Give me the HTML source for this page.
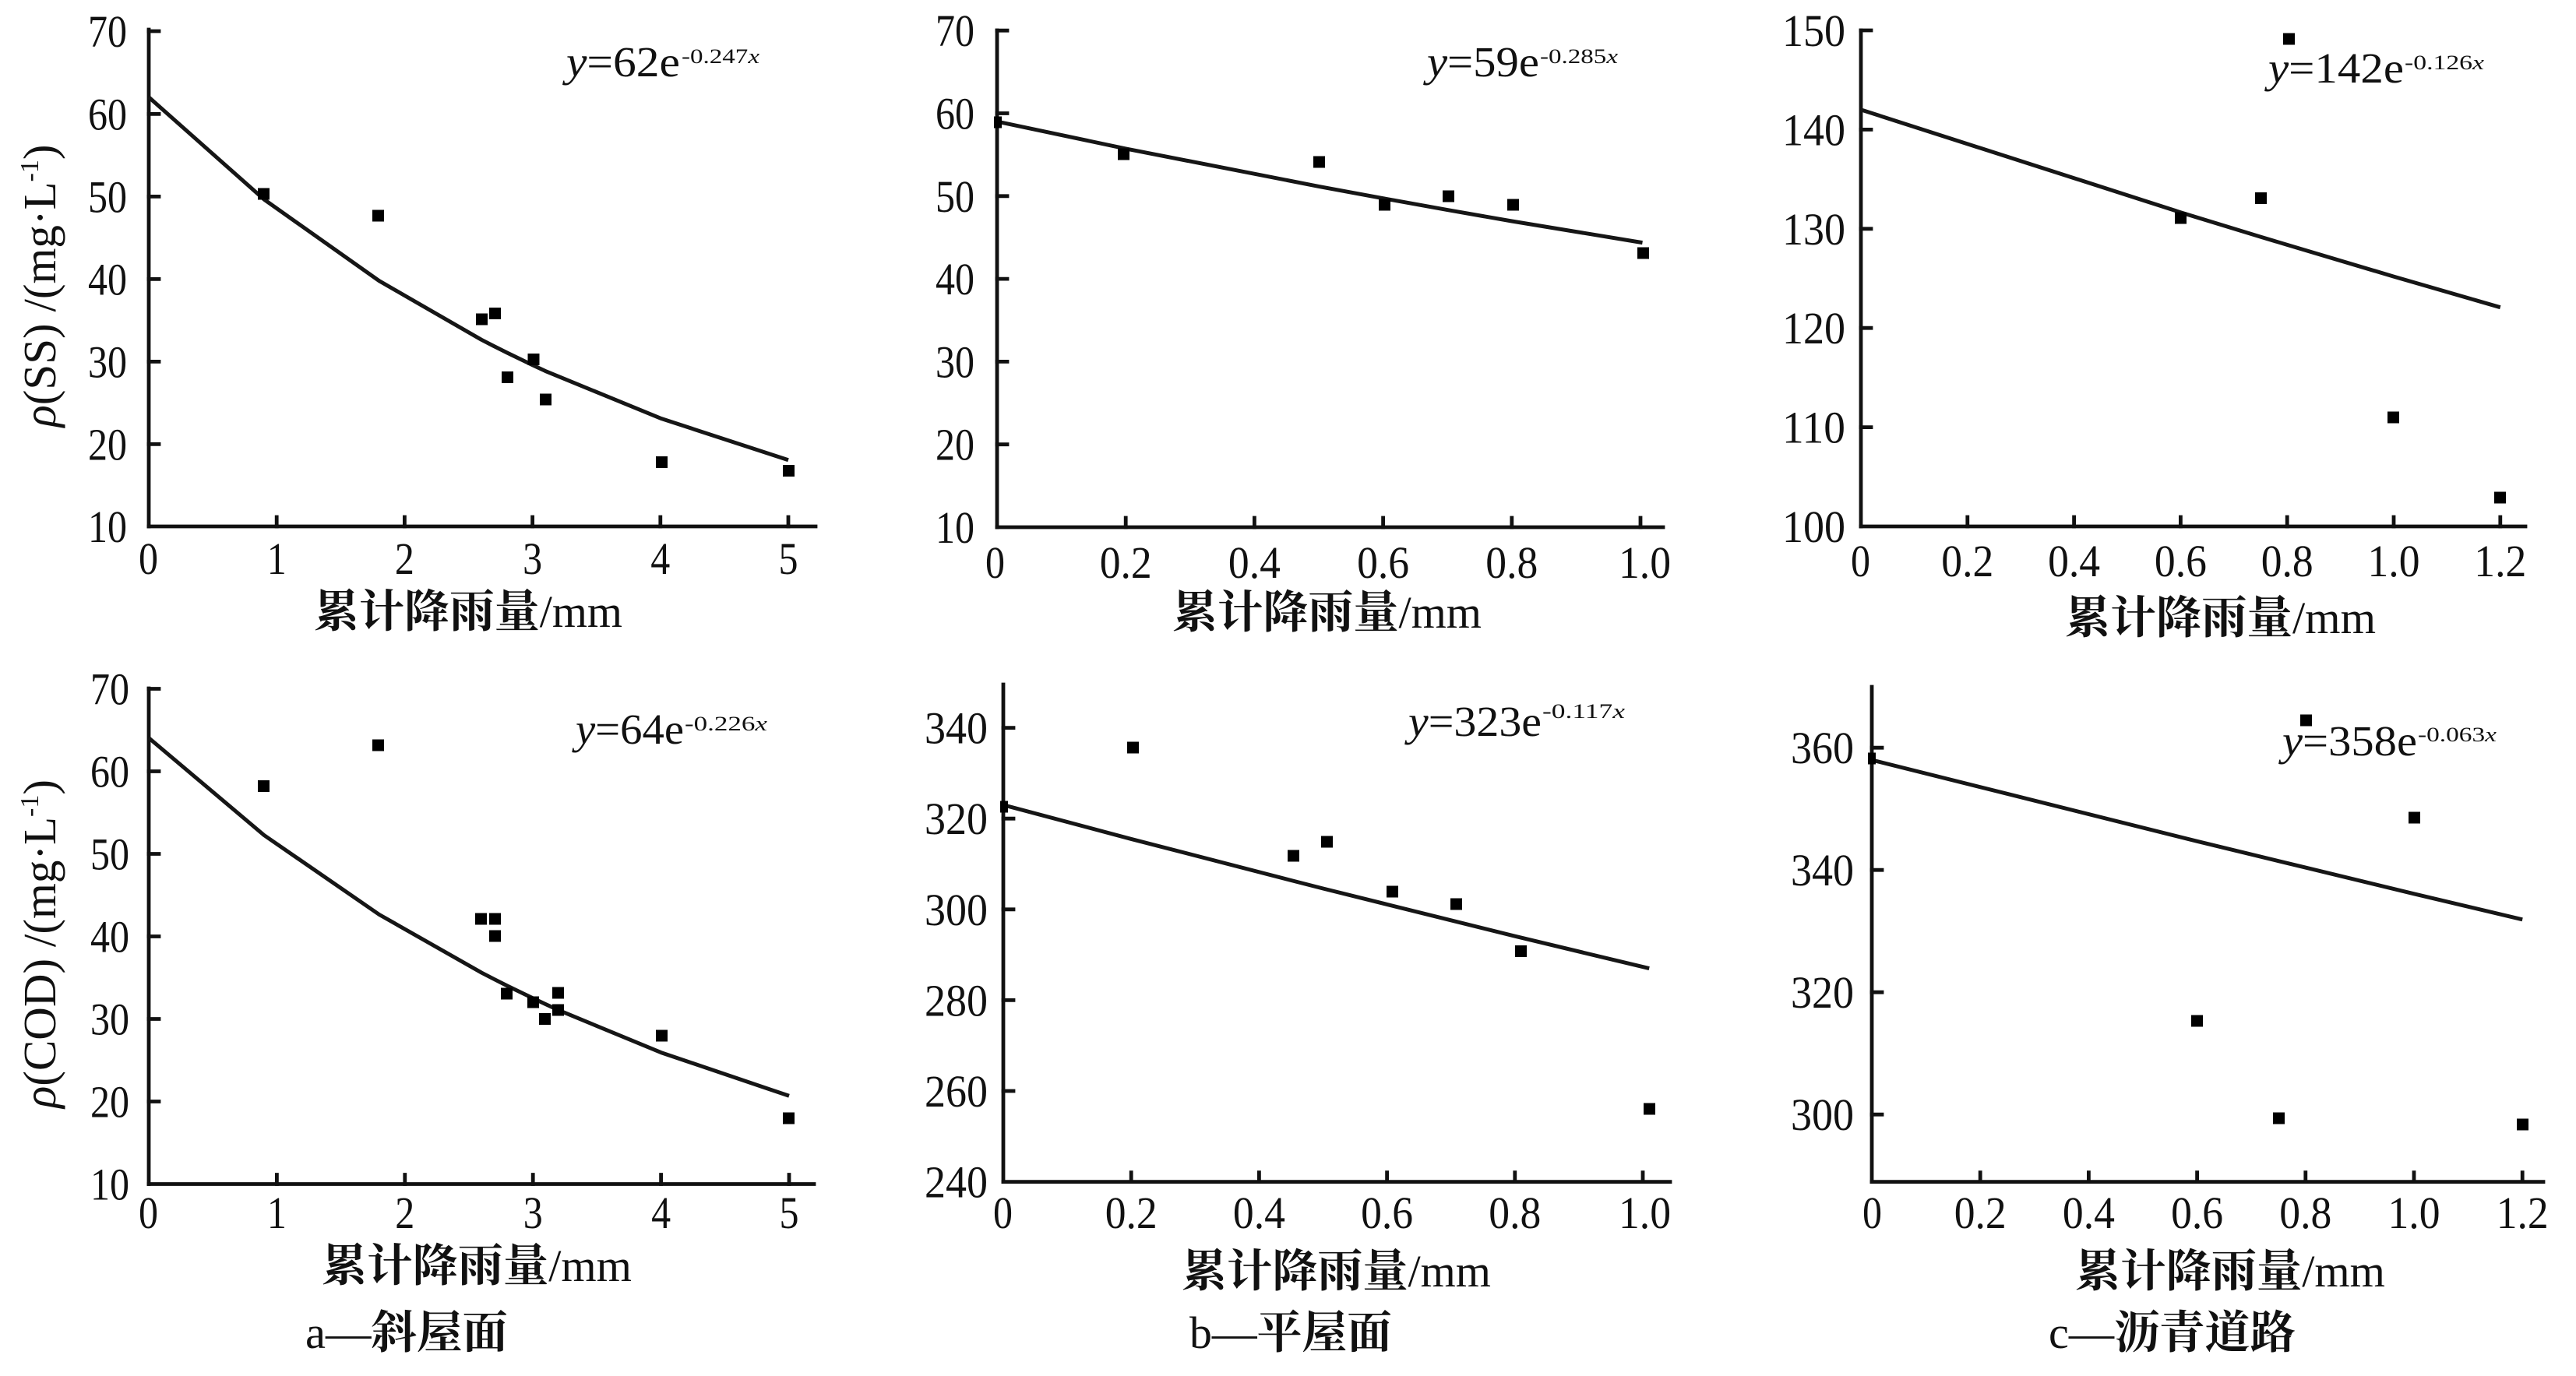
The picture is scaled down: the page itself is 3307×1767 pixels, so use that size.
<!DOCTYPE html>
<html>
<head>
<meta charset="utf-8">
<style>
  html, body { margin:0; padding:0; background:#fff; }
  svg { display:block; }
  .num { font-family: "Liberation Serif", serif; fill:#111; }
  .cjk { font-family: "Liberation Serif", "Noto Serif CJK SC", "Noto Sans CJK SC", serif; font-weight:bold; fill:#111; }
  .lat { font-family: "Liberation Serif", serif; font-weight:normal; fill:#111; }
</style>
</head>
<body>
<svg width="3307" height="1767" viewBox="0 0 3307 1767" xmlns="http://www.w3.org/2000/svg">
<rect x="0" y="0" width="3307" height="1767" fill="#fff"/>

<g stroke="#111" stroke-width="4.8" fill="none" stroke-linecap="square">
  <!-- Panel a top -->
  <line x1="191" y1="38" x2="191" y2="676"/>
  <line x1="191" y1="676" x2="1047" y2="676"/>
  <path d="M191 570.4h13M191 464.4h13M191 358.4h13M191 252.4h13M191 146.4h13M191 40h13"/>
  <path d="M355.2 676v-12M519.4 676v-12M683.6 676v-12M847.8 676v-12M1012 676v-12"/>

  <!-- Panel a bottom -->
  <line x1="191" y1="884" x2="191" y2="1520.5"/>
  <line x1="191" y1="1520.5" x2="1045" y2="1520.5"/>
  <path d="M191 1414.5h13M191 1308.5h13M191 1202.5h13M191 1096.5h13M191 990.5h13M191 884.5h13"/>
  <path d="M355.4 1520.5v-12M519.8 1520.5v-12M684.2 1520.5v-12M848.6 1520.5v-12M1013 1520.5v-12"/>

  <!-- Panel b top -->
  <line x1="1280" y1="39" x2="1280" y2="677"/>
  <line x1="1280" y1="677" x2="2135" y2="677"/>
  <path d="M1280 570.7h13M1280 464.4h13M1280 358.1h13M1280 251.8h13M1280 145.5h13M1280 39.2h13"/>
  <path d="M1445.2 677v-12M1610.4 677v-12M1775.6 677v-12M1940.8 677v-12M2106 677v-12"/>

  <!-- Panel c top -->
  <line x1="2389" y1="39" x2="2389" y2="676"/>
  <line x1="2389" y1="676" x2="3242" y2="676"/>
  <path d="M2389 548.6h13M2389 421.2h13M2389 293.8h13M2389 166.4h13M2389 39h13"/>
  <path d="M2525.8 676v-12M2662.6 676v-12M2799.4 676v-12M2936.2 676v-12M3073 676v-12M3209.8 676v-12"/>

  <!-- Panel b bottom -->
  <line x1="1288" y1="879" x2="1288" y2="1517.6"/>
  <line x1="1288" y1="1517.6" x2="2144" y2="1517.6"/>
  <path d="M1288 1401h13M1288 1284.4h13M1288 1167.8h13M1288 1051.2h13M1288 934.6h13"/>
  <path d="M1452.2 1517.6v-12M1616.4 1517.6v-12M1780.6 1517.6v-12M1944.8 1517.6v-12M2109 1517.6v-12"/>

  <!-- Panel c bottom -->
  <line x1="2403" y1="882" x2="2403" y2="1517.6"/>
  <line x1="2403" y1="1517.6" x2="3265" y2="1517.6"/>
  <path d="M2403 1431.2h13M2403 1274.2h13M2403 1117.2h13M2403 960.2h13"/>
  <path d="M2542.2 1517.6v-12M2681.4 1517.6v-12M2820.6 1517.6v-12M2959.8 1517.6v-12M3099 1517.6v-12M3238.2 1517.6v-12"/>
</g>

<!-- fitted curves -->
<g stroke="#161616" stroke-width="5" fill="none" stroke-linejoin="round">
  <polyline points="191,124.8 338.8,255.9 486.6,360.6 617.9,436.2 634.3,444.6 650.8,452.9 683.6,468.8 700,476.4 847.8,537.1 1012,590.8"/>
  <polyline points="191,947.6 339,1072.5 486.9,1174.5 618.4,1249.2 634.9,1257.7 651.3,1266 684.2,1281.9 700.6,1289.6 717.1,1297.2 848.6,1351.6 1013,1407.3"/>
  <polyline points="1280,156.1 1445.2,190.9 1693,239.4 1775.6,254.7 1858.2,269.6 1940.8,284 2108.5,311.6"/>
  <polyline points="2389,140.9 2799.4,272.7 2902,304.1 2936.2,314.4 3073,355.1 3209.8,394.7"/>
  <polyline points="1288,1033.7 1452.2,1077.4 1657.5,1130.5 1698.5,1141 1780.6,1161.4 1862.7,1181.8 1944.8,1202.2 2117.2,1243.6"/>
  <polyline points="2403,975.9 2820.6,1080.3 2925,1105.7 2959.8,1114.1 3099,1147.8 3238.2,1180.8"/>
</g>

<!-- data points -->
<g fill="#000">
  <!-- a top -->
  <rect x="331" y="241.5" width="15" height="15"/>
  <rect x="478" y="269.5" width="15" height="15"/>
  <rect x="611" y="402.5" width="15" height="15"/>
  <rect x="628" y="395" width="15" height="15"/>
  <rect x="677.5" y="454" width="15" height="15"/>
  <rect x="644" y="477" width="15" height="15"/>
  <rect x="693" y="505.5" width="15" height="15"/>
  <rect x="842" y="586" width="15" height="15"/>
  <rect x="1005" y="597" width="15" height="15"/>
  <!-- a bottom -->
  <rect x="331" y="1002" width="15" height="15"/>
  <rect x="478" y="949.5" width="15" height="15"/>
  <rect x="610" y="1172.5" width="15" height="15"/>
  <rect x="628" y="1172.5" width="15" height="15"/>
  <rect x="628" y="1194.5" width="15" height="15"/>
  <rect x="643" y="1268.5" width="15" height="15"/>
  <rect x="677" y="1279.5" width="15" height="15"/>
  <rect x="692" y="1301" width="15" height="15"/>
  <rect x="709" y="1267.5" width="15" height="15"/>
  <rect x="709" y="1289.5" width="15" height="15"/>
  <rect x="842" y="1322.5" width="15" height="15"/>
  <rect x="1005" y="1428.5" width="15" height="15"/>
  <!-- b top -->
  <rect x="1435" y="190.5" width="15" height="15"/>
  <rect x="1686" y="200.5" width="15" height="15"/>
  <rect x="1770" y="255.5" width="15" height="15"/>
  <rect x="1852" y="244.5" width="15" height="15"/>
  <rect x="1935" y="255.5" width="15" height="15"/>
  <rect x="2102" y="317.5" width="15" height="15"/>
  <rect x="1276" y="149.5" width="10" height="15"/>
  <!-- c top -->
  <rect x="2931" y="42.5" width="15" height="15"/>
  <rect x="2792" y="272.5" width="15" height="15"/>
  <rect x="2895" y="247" width="15" height="15"/>
  <rect x="3065" y="528.5" width="15" height="15"/>
  <rect x="3202" y="631.5" width="15" height="15"/>
  <!-- b bottom -->
  <rect x="1447" y="952.5" width="15" height="15"/>
  <rect x="1653" y="1091.5" width="15" height="15"/>
  <rect x="1696" y="1073.5" width="15" height="15"/>
  <rect x="1780" y="1137.5" width="15" height="15"/>
  <rect x="1862" y="1153.5" width="15" height="15"/>
  <rect x="1945" y="1214" width="15" height="15"/>
  <rect x="2110" y="1416.5" width="15" height="15"/>
  <rect x="1284" y="1028.5" width="10" height="15"/>
  <!-- c bottom -->
  <rect x="2953" y="917.5" width="15" height="15"/>
  <rect x="3092" y="1042.5" width="15" height="15"/>
  <rect x="2813" y="1303.5" width="15" height="15"/>
  <rect x="2918" y="1428.5" width="15" height="15"/>
  <rect x="3231" y="1436.5" width="15" height="15"/>
  <rect x="2398" y="966.5" width="10" height="15"/>
</g>

<!-- Y tick labels -->
<g class="num" font-family="Liberation Serif, serif" font-size="58">
  <!-- a top (right edge 163) -->
  <text x="113" y="60" textLength="50" lengthAdjust="spacingAndGlyphs">70</text>
  <text x="113" y="166.4" textLength="50" lengthAdjust="spacingAndGlyphs">60</text>
  <text x="113" y="272.4" textLength="50" lengthAdjust="spacingAndGlyphs">50</text>
  <text x="113" y="378.4" textLength="50" lengthAdjust="spacingAndGlyphs">40</text>
  <text x="113" y="484.4" textLength="50" lengthAdjust="spacingAndGlyphs">30</text>
  <text x="113" y="590.4" textLength="50" lengthAdjust="spacingAndGlyphs">20</text>
  <text x="113" y="696" textLength="50" lengthAdjust="spacingAndGlyphs">10</text>
  <!-- a bottom (right edge 166) -->
  <text x="116" y="904.5" textLength="50" lengthAdjust="spacingAndGlyphs">70</text>
  <text x="116" y="1010.5" textLength="50" lengthAdjust="spacingAndGlyphs">60</text>
  <text x="116" y="1116.5" textLength="50" lengthAdjust="spacingAndGlyphs">50</text>
  <text x="116" y="1222.5" textLength="50" lengthAdjust="spacingAndGlyphs">40</text>
  <text x="116" y="1328.5" textLength="50" lengthAdjust="spacingAndGlyphs">30</text>
  <text x="116" y="1434.5" textLength="50" lengthAdjust="spacingAndGlyphs">20</text>
  <text x="116" y="1540.5" textLength="50" lengthAdjust="spacingAndGlyphs">10</text>
  <!-- b top (right edge 1251) -->
  <text x="1201" y="59.2" textLength="50" lengthAdjust="spacingAndGlyphs">70</text>
  <text x="1201" y="165.5" textLength="50" lengthAdjust="spacingAndGlyphs">60</text>
  <text x="1201" y="271.8" textLength="50" lengthAdjust="spacingAndGlyphs">50</text>
  <text x="1201" y="378.1" textLength="50" lengthAdjust="spacingAndGlyphs">40</text>
  <text x="1201" y="484.4" textLength="50" lengthAdjust="spacingAndGlyphs">30</text>
  <text x="1201" y="590.7" textLength="50" lengthAdjust="spacingAndGlyphs">20</text>
  <text x="1201" y="697" textLength="50" lengthAdjust="spacingAndGlyphs">10</text>
  <!-- c top (right edge 2369) -->
  <text x="2288" y="59" textLength="81" lengthAdjust="spacingAndGlyphs">150</text>
  <text x="2288" y="186.4" textLength="81" lengthAdjust="spacingAndGlyphs">140</text>
  <text x="2288" y="313.8" textLength="81" lengthAdjust="spacingAndGlyphs">130</text>
  <text x="2288" y="441.2" textLength="81" lengthAdjust="spacingAndGlyphs">120</text>
  <text x="2288" y="568.6" textLength="81" lengthAdjust="spacingAndGlyphs">110</text>
  <text x="2288" y="696" textLength="81" lengthAdjust="spacingAndGlyphs">100</text>
  <!-- b bottom (right edge 1268) -->
  <text x="1187" y="954.6" textLength="81" lengthAdjust="spacingAndGlyphs">340</text>
  <text x="1187" y="1071.2" textLength="81" lengthAdjust="spacingAndGlyphs">320</text>
  <text x="1187" y="1187.8" textLength="81" lengthAdjust="spacingAndGlyphs">300</text>
  <text x="1187" y="1304.4" textLength="81" lengthAdjust="spacingAndGlyphs">280</text>
  <text x="1187" y="1421" textLength="81" lengthAdjust="spacingAndGlyphs">260</text>
  <text x="1187" y="1537.6" textLength="81" lengthAdjust="spacingAndGlyphs">240</text>
  <!-- c bottom (right edge 2380) -->
  <text x="2299" y="980.2" textLength="81" lengthAdjust="spacingAndGlyphs">360</text>
  <text x="2299" y="1137.2" textLength="81" lengthAdjust="spacingAndGlyphs">340</text>
  <text x="2299" y="1294.2" textLength="81" lengthAdjust="spacingAndGlyphs">320</text>
  <text x="2299" y="1451.2" textLength="81" lengthAdjust="spacingAndGlyphs">300</text>
</g>

<!-- X tick labels -->
<g class="num" font-family="Liberation Serif, serif" font-size="58">
  <!-- a top -->
  <text x="178" y="737" textLength="25" lengthAdjust="spacingAndGlyphs">0</text>
  <text x="342.7" y="737" textLength="25" lengthAdjust="spacingAndGlyphs">1</text>
  <text x="506.9" y="737" textLength="25" lengthAdjust="spacingAndGlyphs">2</text>
  <text x="671.1" y="737" textLength="25" lengthAdjust="spacingAndGlyphs">3</text>
  <text x="835.3" y="737" textLength="25" lengthAdjust="spacingAndGlyphs">4</text>
  <text x="999.5" y="737" textLength="25" lengthAdjust="spacingAndGlyphs">5</text>
  <!-- a bottom -->
  <text x="178" y="1577" textLength="25" lengthAdjust="spacingAndGlyphs">0</text>
  <text x="342.9" y="1577" textLength="25" lengthAdjust="spacingAndGlyphs">1</text>
  <text x="507.3" y="1577" textLength="25" lengthAdjust="spacingAndGlyphs">2</text>
  <text x="671.7" y="1577" textLength="25" lengthAdjust="spacingAndGlyphs">3</text>
  <text x="836.1" y="1577" textLength="25" lengthAdjust="spacingAndGlyphs">4</text>
  <text x="1000.5" y="1577" textLength="25" lengthAdjust="spacingAndGlyphs">5</text>
  <!-- b top -->
  <text x="1265" y="742" textLength="25" lengthAdjust="spacingAndGlyphs">0</text>
  <text x="1411.7" y="742" textLength="67" lengthAdjust="spacingAndGlyphs">0.2</text>
  <text x="1576.9" y="742" textLength="67" lengthAdjust="spacingAndGlyphs">0.4</text>
  <text x="1742.1" y="742" textLength="67" lengthAdjust="spacingAndGlyphs">0.6</text>
  <text x="1907.3" y="742" textLength="67" lengthAdjust="spacingAndGlyphs">0.8</text>
  <text x="2078" y="742" textLength="67" lengthAdjust="spacingAndGlyphs">1.0</text>
  <!-- c top -->
  <text x="2376" y="740" textLength="25" lengthAdjust="spacingAndGlyphs">0</text>
  <text x="2492.3" y="740" textLength="67" lengthAdjust="spacingAndGlyphs">0.2</text>
  <text x="2629.1" y="740" textLength="67" lengthAdjust="spacingAndGlyphs">0.4</text>
  <text x="2765.9" y="740" textLength="67" lengthAdjust="spacingAndGlyphs">0.6</text>
  <text x="2902.7" y="740" textLength="67" lengthAdjust="spacingAndGlyphs">0.8</text>
  <text x="3039.5" y="740" textLength="67" lengthAdjust="spacingAndGlyphs">1.0</text>
  <text x="3176.3" y="740" textLength="67" lengthAdjust="spacingAndGlyphs">1.2</text>
  <!-- b bottom -->
  <text x="1275" y="1577" textLength="25" lengthAdjust="spacingAndGlyphs">0</text>
  <text x="1418.7" y="1577" textLength="67" lengthAdjust="spacingAndGlyphs">0.2</text>
  <text x="1582.9" y="1577" textLength="67" lengthAdjust="spacingAndGlyphs">0.4</text>
  <text x="1747.1" y="1577" textLength="67" lengthAdjust="spacingAndGlyphs">0.6</text>
  <text x="1911.3" y="1577" textLength="67" lengthAdjust="spacingAndGlyphs">0.8</text>
  <text x="2078" y="1577" textLength="67" lengthAdjust="spacingAndGlyphs">1.0</text>
  <!-- c bottom -->
  <text x="2391" y="1577" textLength="25" lengthAdjust="spacingAndGlyphs">0</text>
  <text x="2508.7" y="1577" textLength="67" lengthAdjust="spacingAndGlyphs">0.2</text>
  <text x="2647.9" y="1577" textLength="67" lengthAdjust="spacingAndGlyphs">0.4</text>
  <text x="2787.1" y="1577" textLength="67" lengthAdjust="spacingAndGlyphs">0.6</text>
  <text x="2926.3" y="1577" textLength="67" lengthAdjust="spacingAndGlyphs">0.8</text>
  <text x="3065.5" y="1577" textLength="67" lengthAdjust="spacingAndGlyphs">1.0</text>
  <text x="3204.7" y="1577" textLength="67" lengthAdjust="spacingAndGlyphs">1.2</text>
</g>

<!-- X axis titles -->
<g font-size="58">
  <text class="cjk" x="403" y="805" textLength="396" lengthAdjust="spacingAndGlyphs">累计降雨量<tspan class="lat">/mm</tspan></text>
  <text class="cjk" x="1505" y="806" textLength="397" lengthAdjust="spacingAndGlyphs">累计降雨量<tspan class="lat">/mm</tspan></text>
  <text class="cjk" x="2651" y="813" textLength="399" lengthAdjust="spacingAndGlyphs">累计降雨量<tspan class="lat">/mm</tspan></text>
  <text class="cjk" x="413" y="1645" textLength="398" lengthAdjust="spacingAndGlyphs">累计降雨量<tspan class="lat">/mm</tspan></text>
  <text class="cjk" x="1517" y="1652" textLength="397" lengthAdjust="spacingAndGlyphs">累计降雨量<tspan class="lat">/mm</tspan></text>
  <text class="cjk" x="2664" y="1652" textLength="398" lengthAdjust="spacingAndGlyphs">累计降雨量<tspan class="lat">/mm</tspan></text>
</g>

<!-- Captions -->
<g font-size="58">
  <text class="cjk" x="392" y="1731" textLength="260" lengthAdjust="spacingAndGlyphs"><tspan class="lat">a—</tspan>斜屋面</text>
  <text class="cjk" x="1527" y="1731" textLength="260" lengthAdjust="spacingAndGlyphs"><tspan class="lat">b—</tspan>平屋面</text>
  <text class="cjk" x="2630" y="1731" textLength="317" lengthAdjust="spacingAndGlyphs"><tspan class="lat">c—</tspan>沥青道路</text>
</g>

<!-- Y axis titles -->
<g class="num" font-family="Liberation Serif, serif" font-size="59">
  <text transform="translate(71,367) rotate(-90)" text-anchor="middle"><tspan font-style="italic">ρ</tspan>(SS) /(mg·L<tspan font-size="34" dy="-22">-1</tspan><tspan dy="22">)</tspan></text>
  <text transform="translate(71,1212) rotate(-90)" text-anchor="middle"><tspan font-style="italic">ρ</tspan>(COD) /(mg·L<tspan font-size="34" dy="-22">-1</tspan><tspan dy="22">)</tspan></text>
</g>

<!-- Equations -->
<g class="num" font-family="Liberation Serif, serif">
  <text x="727" y="98" font-size="55" textLength="146" lengthAdjust="spacingAndGlyphs"><tspan font-style="italic">y</tspan>=62e</text>
  <text x="875" y="81" font-size="26" textLength="100" lengthAdjust="spacingAndGlyphs">-0.247<tspan font-style="italic">x</tspan></text>

  <text x="1832" y="98" font-size="55" textLength="144" lengthAdjust="spacingAndGlyphs"><tspan font-style="italic">y</tspan>=59e</text>
  <text x="1977" y="81" font-size="26" textLength="100" lengthAdjust="spacingAndGlyphs">-0.285<tspan font-style="italic">x</tspan></text>

  <text x="2912" y="106" font-size="55" textLength="174" lengthAdjust="spacingAndGlyphs"><tspan font-style="italic">y</tspan>=142e</text>
  <text x="3087" y="89" font-size="26" textLength="102" lengthAdjust="spacingAndGlyphs">-0.126<tspan font-style="italic">x</tspan></text>

  <text x="739" y="955" font-size="55" textLength="139" lengthAdjust="spacingAndGlyphs"><tspan font-style="italic">y</tspan>=64e</text>
  <text x="879" y="938" font-size="26" textLength="106" lengthAdjust="spacingAndGlyphs">-0.226<tspan font-style="italic">x</tspan></text>

  <text x="1808" y="945" font-size="55" textLength="171" lengthAdjust="spacingAndGlyphs"><tspan font-style="italic">y</tspan>=323e</text>
  <text x="1980" y="922" font-size="26" textLength="106" lengthAdjust="spacingAndGlyphs">-0.117<tspan font-style="italic">x</tspan></text>

  <text x="2930" y="970" font-size="55" textLength="173" lengthAdjust="spacingAndGlyphs"><tspan font-style="italic">y</tspan>=358e</text>
  <text x="3104" y="952" font-size="26" textLength="101" lengthAdjust="spacingAndGlyphs">-0.063<tspan font-style="italic">x</tspan></text>
</g>
</svg>
</body>
</html>
